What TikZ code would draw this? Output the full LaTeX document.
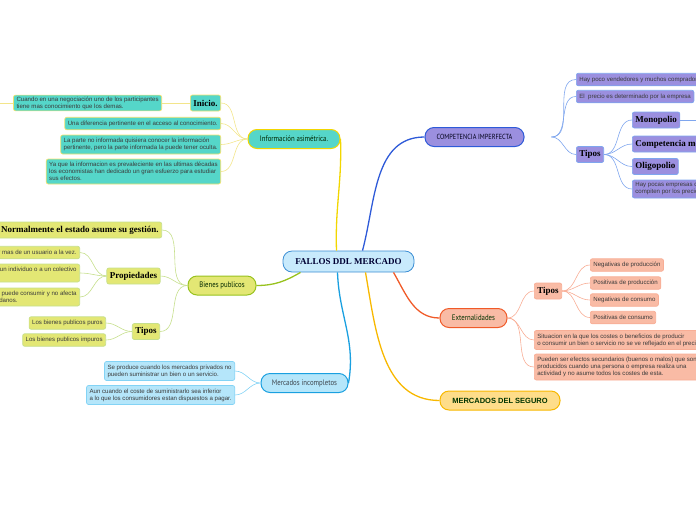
\documentclass[tikz,border=0pt]{standalone}
\usepackage{fontspec}
\setmainfont{Liberation Serif}
\setsansfont{Liberation Sans}
\newfontfamily\condfont[FakeStretch=0.85]{PT Sans}
\usepackage{tikz}
\usetikzlibrary{positioning}
\definecolor{rootfill}{HTML}{C8EAFC}
\definecolor{rootdraw}{HTML}{3C8ED4}
\definecolor{infill}{HTML}{55D6C9}
\definecolor{indraw}{HTML}{F2D600}
\definecolor{inline}{HTML}{F3E58A}
\definecolor{bifill}{HTML}{E3E774}
\definecolor{bidraw}{HTML}{98C21E}
\definecolor{biline}{HTML}{C6DF8C}
\definecolor{mefill}{HTML}{B5E6FA}
\definecolor{medraw}{HTML}{1AA0E0}
\definecolor{meline}{HTML}{83D3F5}
\definecolor{cofill}{HTML}{9B8FDF}
\definecolor{codraw}{HTML}{2E5AD8}
\definecolor{coline}{HTML}{7FA6EE}
\definecolor{exfill}{HTML}{F9BBA5}
\definecolor{exdraw}{HTML}{F05A28}
\definecolor{exline}{HTML}{F8AD95}
\definecolor{sefill}{HTML}{FEDD8A}
\definecolor{sedraw}{HTML}{F8B800}
\definecolor{txt}{HTML}{3A3A3A}

\begin{document}
\begin{tikzpicture}[x=1pt,y=-1pt,
    leaf/.style={draw,rounded corners=2pt,line width=.7pt,inner xsep=3pt,inner ysep=1.5pt,
      minimum height=12.5pt,align=left,text=txt,font=\sffamily\fontsize{6.1}{7}\selectfont},
    head/.style={leaf,minimum height=16pt,text=black,font=\bfseries\fontsize{9}{10}\selectfont},
    branch/.style={draw,rounded corners=9pt,line width=1pt,minimum height=19pt,
      font=\condfont\fontsize{8}{9}\selectfont},
    infl/.style={fill=infill,draw=inline!80!indraw},
    bil/.style={fill=bifill,draw=biline},
    mel/.style={fill=mefill,draw=meline},
    col/.style={fill=cofill,draw=coline},
    exl/.style={fill=exfill,draw=exline},
    lk/.style={line width=.6pt},
    rk/.style={line width=1.3pt}]
  \useasboundingbox (0,0) rectangle (696,520);
  \clip (0,0) rectangle (696,520);

  \node[draw=rootdraw,fill=rootfill,rounded corners=9pt,line width=.8pt,minimum width=131pt,
    minimum height=21pt,text=black!80!blue,font=\bfseries\fontsize{9}{10}\selectfont]
    (root) at (348.5,261.5) {FALLOS DDL MERCADO};

  \node[branch,fill=infill,draw=indraw,minimum width=92pt,text=black!85!green] (inf) at (294,139) {Información asimétrica.};
  \node[branch,fill=bifill,draw=bidraw,minimum width=68pt,text=black!85!green] (bien) at (222,285.5) {Bienes publicos};
  \node[branch,fill=mefill,draw=medraw,minimum width=87pt,text=black!80!cyan] (merc) at (304.5,383) {Mercados incompletos};
  \node[branch,fill=cofill,draw=codraw,minimum width=99pt,text=black!90!blue,
    font=\condfont\fontsize{7.4}{9}\selectfont] (comp) at (474.5,137) {COMPETENCIA IMPERFECTA};
  \node[branch,fill=exfill,draw=exdraw,minimum width=67pt,text=black!80!green] (ext) at (473.5,318) {Externalidades};
  \node[branch,fill=sefill,draw=sedraw,minimum width=120pt,text=black!80!green,
    font=\sffamily\bfseries\fontsize{7.5}{8}\selectfont] (seg) at (500,400.5) {MERCADOS DEL SEGURO};

  \draw[rk,indraw] ([xshift=-12pt]root.north) to[out=92,in=-88] (inf.east);
  \draw[rk,bidraw] ([xshift=-48pt]root.south) to[out=-150,in=0] (bien.east);
  \draw[rk,medraw] ([xshift=-11pt]root.south) to[out=-88,in=80] (merc.east);
  \draw[rk,codraw] ([xshift=14pt]root.north) to[out=75,in=180] (comp.west);
  \draw[rk,exdraw] ([xshift=45pt]root.south) to[out=-60,in=180] (ext.west);
  \draw[rk,sedraw] ([xshift=17pt]root.south) to[out=-80,in=180] (seg.west);

  % informacion asimetrica
  \node[head,infl,anchor=east] (ini) at (221,103) {Inicio.};
  \node[leaf,infl,anchor=east] (ini1) at (162,103)
    {Cuando en una negociación uno de los participantes\\tiene mas conocimiento que los demas.};
  \coordinate (ini0) at (-10,103);
  \node[leaf,infl,anchor=east] (inf1) at (221,123.5) {Una diferencia pertinente en el acceso al conocimiento.};
  \node[leaf,infl,anchor=east,minimum height=19pt] (inf2) at (221,144.5)
    {La parte no informada quisiera conocer la información\\pertinente, pero la parte informada la puede tener oculta.};
  \node[leaf,infl,anchor=east,minimum height=25pt] (inf3) at (221,171.5)
    {Ya que la informacion es prevaleciente en las ultimas décadas\\los economistas han dedicado un gran esfuerzo para estudiar\\sus efectos.};
  \foreach \n in {ini,inf1,inf2,inf3}
    \draw[lk,inline] (inf.west) to[out=180,in=0] (\n.east);
  \draw[lk,inline] (ini.west) -- (ini1.east);
  \draw[lk,inline] (ini1.west) -- (ini0);

  % bienes publicos
  \node[head,bil,anchor=east] (gest) at (162,230) {Normalmente el estado asume su gestión.};
  \node[head,bil] (prop) at (133.5,276) {Propiedades};
  \node[leaf,bil,anchor=east] (prop1) at (80,252.5) {Puede ser consumido por mas de un usuario a la vez.};
  \node[leaf,bil,anchor=east,minimum height=18pt] (prop2) at (80,273)
    {No se puede excluir a un individuo o a un colectivo\\\mbox{}};
  \node[leaf,bil,anchor=east,minimum height=18pt] (prop3) at (80,297)
    {Cualquier persona puede consumir y no afecta\\a los demas ciudadanos.};
  \node[head,bil] (btip) at (146,331.5) {Tipos};
  \node[leaf,bil,anchor=east] (btip1) at (106,323) {Los bienes publicos puros};
  \node[leaf,bil,anchor=east] (btip2) at (106,340) {Los bienes publicos impuros};
  \foreach \n in {gest,prop,btip}
    \draw[lk,biline] (bien.west) to[out=180,in=0] (\n.east);
  \foreach \n in {prop1,prop2,prop3}
    \draw[lk,biline] (prop.west) to[out=180,in=0] (\n.east);
  \foreach \n in {btip1,btip2}
    \draw[lk,biline] (btip.west) to[out=180,in=0] (\n.east);

  % mercados incompletos
  \node[leaf,mel,anchor=east,minimum height=19pt] (merc1) at (235,371)
    {Se produce cuando los mercados privados no\\pueden suministrar un bien o un servicio.};
  \node[leaf,mel,anchor=east,minimum height=19pt] (merc2) at (235,395)
    {Aun cuando el coste de suministrarlo sea inferior\\a lo que los consumidores estan dispuestos a pagar.};
  \foreach \n in {merc1,merc2}
    \draw[lk,meline] (merc.west) to[out=180,in=0] (\n.east);

  % competencia imperfecta
  \coordinate (chub) at ([xshift=27pt]comp.east);
  \node[leaf,col,anchor=west] (comp1) at (576,79.5) {Hay poco vendedores y muchos compradores};
  \node[leaf,col,anchor=west] (comp2) at (576,96.5) {El \ precio es determinado por la empresa};
  \node[head,col,anchor=west] (ctip) at (576,154.5) {Tipos};
  \node[head,col,anchor=west] (mono) at (632,120) {Monopolio};
  \node[head,col,anchor=west] (cmon) at (632,144) {Competencia monopolística};
  \node[head,col,anchor=west] (olig) at (632,166.5) {Oligopolio};
  \node[leaf,col,anchor=west,minimum height=18pt] (ctip4) at (632,189)
    {Hay pocas empresas que\\compiten por los precios};
  \coordinate (mono1) at (710,120);
  \foreach \n in {comp1,comp2,ctip}
    \draw[lk,coline] (chub) to[out=0,in=180] (\n.west);
  \foreach \n in {mono,cmon,olig,ctip4}
    \draw[lk,coline] (ctip.east) to[out=0,in=180] (\n.west);
  \draw[lk,coline] (mono.east) -- (mono1);

  % externalidades
  \node[head,exl,anchor=west] (etip) at (534,291) {Tipos};
  \node[leaf,exl,anchor=west] (etip1) at (590,265) {Negativas de producción};
  \node[leaf,exl,anchor=west] (etip2) at (590,283) {Positivas de producción};
  \node[leaf,exl,anchor=west] (etip3) at (590,300) {Negativas de consumo};
  \node[leaf,exl,anchor=west] (etip4) at (590,317.5) {Positivas de consumo};
  \node[leaf,exl,anchor=west,minimum height=19pt] (ext1) at (534,340)
    {Situacion en la que los costes o beneficios de producir\\o consumir un bien o servicio no se ve reflejado en el precio.};
  \node[leaf,exl,anchor=west,minimum height=26pt] (ext2) at (534,367)
    {Pueden ser efectos secundarios (buenos o malos) que son\\producidos cuando una persona o empresa realiza una\\actividad y no asume todos los costes de esta.};
  \foreach \n in {etip,ext1,ext2}
    \draw[lk,exline] (ext.east) to[out=0,in=180] (\n.west);
  \foreach \n in {etip1,etip2,etip3,etip4}
    \draw[lk,exline] (etip.east) to[out=0,in=180] (\n.west);
\end{tikzpicture}
\end{document}
